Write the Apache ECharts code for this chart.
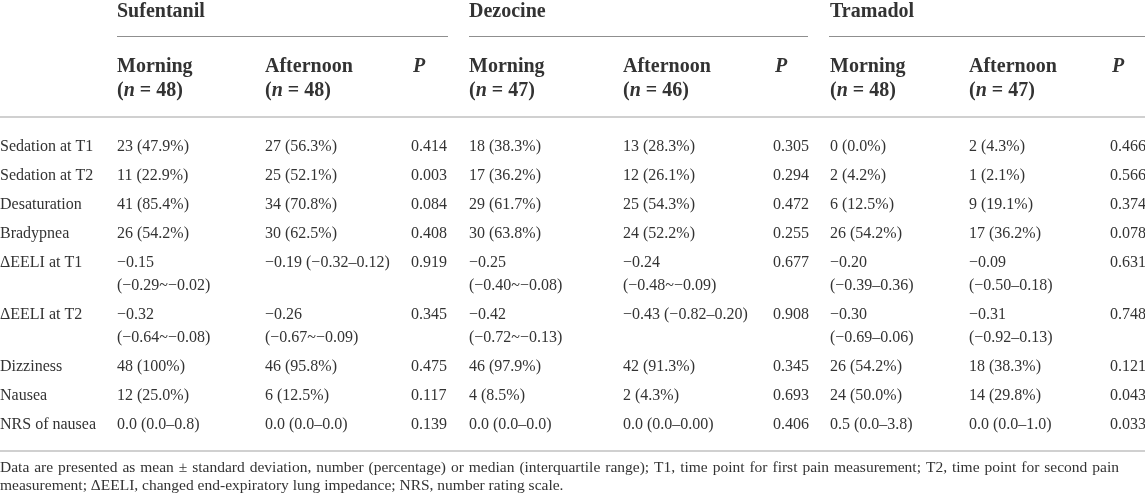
<!DOCTYPE html>
<html>
<head>
<meta charset="utf-8">
<script src="https://cdn.jsdelivr.net/npm/echarts@6/dist/echarts.min.js"></script>
<style>
	html, body { margin: 0; padding: 0; background: #fff; }
	#table1 { width: 1145px; height: 498px; }
</style>
</head>
<body>
<div id="table1"></div>
<script>
// 表格数据
var groups = ['Sufentanil', 'Dezocine', 'Tramadol'];
var groupN = [[48, 48], [47, 46], [48, 47]];
var rowLabels = ['Sedation at T1', 'Sedation at T2', 'Desaturation', 'Bradypnea', 'ΔEELI at T1', 'ΔEELI at T2', 'Dizziness', 'Nausea', 'NRS of nausea'];
var sufMorning = ['23 (47.9%)', '11 (22.9%)', '41 (85.4%)', '26 (54.2%)', '−0.15\n(−0.29~−0.02)', '−0.32\n(−0.64~−0.08)', '48 (100%)', '12 (25.0%)', '0.0 (0.0–0.8)'];
var sufAfternoon = ['27 (56.3%)', '25 (52.1%)', '34 (70.8%)', '30 (62.5%)', '−0.19 (−0.32–0.12)', '−0.26\n(−0.67~−0.09)', '46 (95.8%)', '6 (12.5%)', '0.0 (0.0–0.0)'];
var sufP = ['0.414', '0.003', '0.084', '0.408', '0.919', '0.345', '0.475', '0.117', '0.139'];
var dezMorning = ['18 (38.3%)', '17 (36.2%)', '29 (61.7%)', '30 (63.8%)', '−0.25\n(−0.40~−0.08)', '−0.42\n(−0.72~−0.13)', '46 (97.9%)', '4 (8.5%)', '0.0 (0.0–0.0)'];
var dezAfternoon = ['13 (28.3%)', '12 (26.1%)', '25 (54.3%)', '24 (52.2%)', '−0.24\n(−0.48~−0.09)', '−0.43 (−0.82–0.20)', '42 (91.3%)', '2 (4.3%)', '0.0 (0.0–0.00)'];
var dezP = ['0.305', '0.294', '0.472', '0.255', '0.677', '0.908', '0.345', '0.693', '0.406'];
var traMorning = ['0 (0.0%)', '2 (4.2%)', '6 (12.5%)', '26 (54.2%)', '−0.20\n(−0.39–0.36)', '−0.30\n(−0.69–0.06)', '26 (54.2%)', '24 (50.0%)', '0.5 (0.0–3.8)'];
var traAfternoon = ['2 (4.3%)', '1 (2.1%)', '9 (19.1%)', '17 (36.2%)', '−0.09\n(−0.50–0.18)', '−0.31\n(−0.92–0.13)', '18 (38.3%)', '14 (29.8%)', '0.0 (0.0–1.0)'];
var traP = ['0.466', '0.566', '0.374', '0.078', '0.631', '0.748', '0.121', '0.043', '0.033'];
var footnote = [
	'Data are presented as mean ± standard deviation, number (percentage) or median (interquartile range); T1, time point for first pain measurement; T2, time point for second pain',
	'measurement; ΔEELI, changed end-expiratory lung impedance; NRS, number rating scale.'
];

var columns = [sufMorning, sufAfternoon, sufP, dezMorning, dezAfternoon, dezP, traMorning, traAfternoon, traP];

// 布局
var W = 1145;
var FONT = '"Liberation Serif", "Times New Roman", serif';
var colX = [117, 265, 411, 469, 623, 773, 830, 969, 1110];
var groupLine = [[117, 448], [469, 808], [829, 1145]];
var textColor = '#333';
var rowStart = 147, rowPitch = 29, linePitch = 23;
var headSize = 20;

var els = [];

function txt(x, y, s, opt) {
	opt = opt || {};
	els.push({
		type: 'text',
		x: x,
		y: y,
		silent: true,
		style: {
			text: s,
			fill: textColor,
			fontStyle: opt.style || 'normal',
			fontWeight: opt.weight || 'normal',
			fontSize: opt.size || 16,
			fontFamily: FONT,
			verticalAlign: opt.va || 'middle',
			align: 'left',
			lineHeight: opt.lh || linePitch,
			rich: opt.rich
		}
	});
}

function hline(x1, x2, y, color, w) {
	els.push({
		type: 'line',
		silent: true,
		shape: { x1: x1, y1: y, x2: x2, y2: y },
		style: { stroke: color, lineWidth: w }
	});
}

// 表头
var rich = { i: { fontStyle: 'italic', fontWeight: 'bold', fontSize: headSize, fontFamily: FONT, fill: textColor } };
groups.forEach(function(g, gi) {
	var c = gi * 3;
	txt(colX[c], 12, g, { weight: 'bold', size: headSize });
	hline(groupLine[gi][0], groupLine[gi][1], 36.5, '#8f8f8f', 1);
	txt(colX[c], 67, 'Morning', { weight: 'bold', size: headSize });
	txt(colX[c], 91, '({i|n} = ' + groupN[gi][0] + ')', { weight: 'bold', size: headSize, rich: rich });
	txt(colX[c + 1], 67, 'Afternoon', { weight: 'bold', size: headSize });
	txt(colX[c + 1], 91, '({i|n} = ' + groupN[gi][1] + ')', { weight: 'bold', size: headSize, rich: rich });
	txt(colX[c + 2] + 2, 67, 'P', { weight: 'bold', size: headSize, style: 'italic' });
});
hline(0, W, 117, '#d0d0d0', 2);

// 数据行
var y = rowStart;
rowLabels.forEach(function(label, ri) {
	txt(0, y - linePitch / 2, label, { va: 'top' });
	var lines = 1;
	columns.forEach(function(col, ci) {
		txt(colX[ci], y - linePitch / 2, col[ri], { va: 'top' });
		lines = Math.max(lines, col[ri].split('\n').length);
	});
	y += rowPitch + (lines - 1) * linePitch;
});
var bottomY = y - rowPitch + 26;
hline(0, W, bottomY, '#d0d0d0', 2);

// 注释 (第一行两端对齐)
var ctx = document.createElement('canvas').getContext('2d');
var noteSize = 15.5;
ctx.font = noteSize + 'px ' + FONT;
var words = footnote[0].split(' ');
var total = 0;
words.forEach(function(w) { total += ctx.measureText(w).width; });
var gap = (1119 - total) / (words.length - 1);
var nx = 0;
words.forEach(function(w) {
	txt(nx, bottomY + 17, w, { size: noteSize });
	nx += ctx.measureText(w).width + gap;
});
txt(0, bottomY + 35, footnote[1], { size: noteSize });

var myChart = echarts.init(document.getElementById('table1'));
myChart.setOption({
	animation: false,
	graphic: { elements: els }
});
</script>
</body>
</html>
